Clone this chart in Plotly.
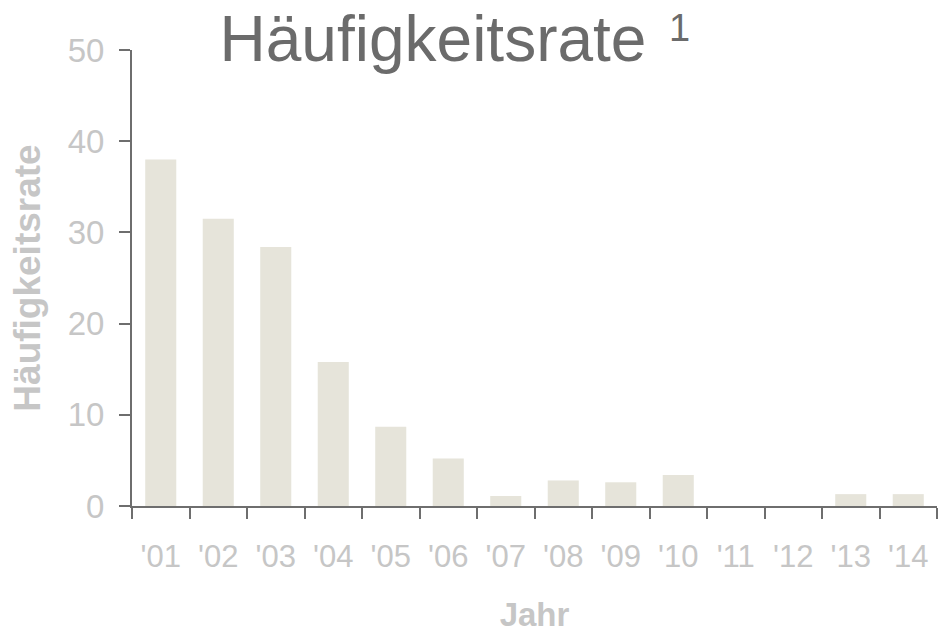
import plotly.graph_objects as go

years = ["'01", "'02", "'03", "'04", "'05", "'06", "'07", "'08", "'09", "'10", "'11", "'12", "'13", "'14"]
rates = [38.0, 31.5, 28.4, 15.8, 8.7, 5.2, 1.1, 2.8, 2.6, 3.4, 0, 0, 1.3, 1.3]
y_ticks = [0, 10, 20, 30, 40, 50]

FONT = "Liberation Sans, Arial, sans-serif"
LIGHT = "#c6c6c6"
AXIS = "#6e6e6e"
TITLE = "#6b6b6b"

fig = go.Figure(go.Bar(x=years, y=rates, marker=dict(color="#e6e4da", line=dict(width=0))))

fig.update_layout(
    width=938, height=633,
    margin=dict(l=132, r=1, t=50, b=127),
    plot_bgcolor="white", paper_bgcolor="white",
    bargap=0.46,
    showlegend=False,
    title=dict(
        text="Häufigkeitsrate",
        font=dict(family=FONT, size=64, color=TITLE),
        x=0.4616, xanchor="center", xref="container",
        y=0.975, yanchor="top", yref="container",
    ),
    annotations=[dict(
        text="1", xref="paper", yref="paper", x=0.664, y=1.048,
        xanchor="left", yanchor="middle", showarrow=False,
        font=dict(family=FONT, size=38, color=TITLE),
    )],
)

fig.update_xaxes(
    type="category",
    showline=True, linecolor=AXIS, linewidth=2,
    ticks="outside", tickson="boundaries", ticklen=11, tickcolor=AXIS, tickwidth=2,
    tickfont=dict(family=FONT, size=31, color=LIGHT),
    ticklabelstandoff=22,
    showgrid=False, zeroline=False,
    title=dict(text="<b>Jahr</b>", font=dict(family=FONT, size=33, color=LIGHT), standoff=30),
)

fig.update_yaxes(
    range=[0, 50], tickvals=y_ticks,
    showline=True, linecolor=AXIS, linewidth=2,
    ticks="outside", ticklen=11, tickcolor=AXIS, tickwidth=2,
    tickfont=dict(family=FONT, size=33, color=LIGHT),
    ticklabelstandoff=8,
    showgrid=False, zeroline=False,
    title=dict(text="<b>Häufigkeitsrate</b>", font=dict(family=FONT, size=37, color=LIGHT), standoff=16),
)

fig.write_html("out.html", config={"displayModeBar": False},
               post_script="document.body.style.margin='0';")
